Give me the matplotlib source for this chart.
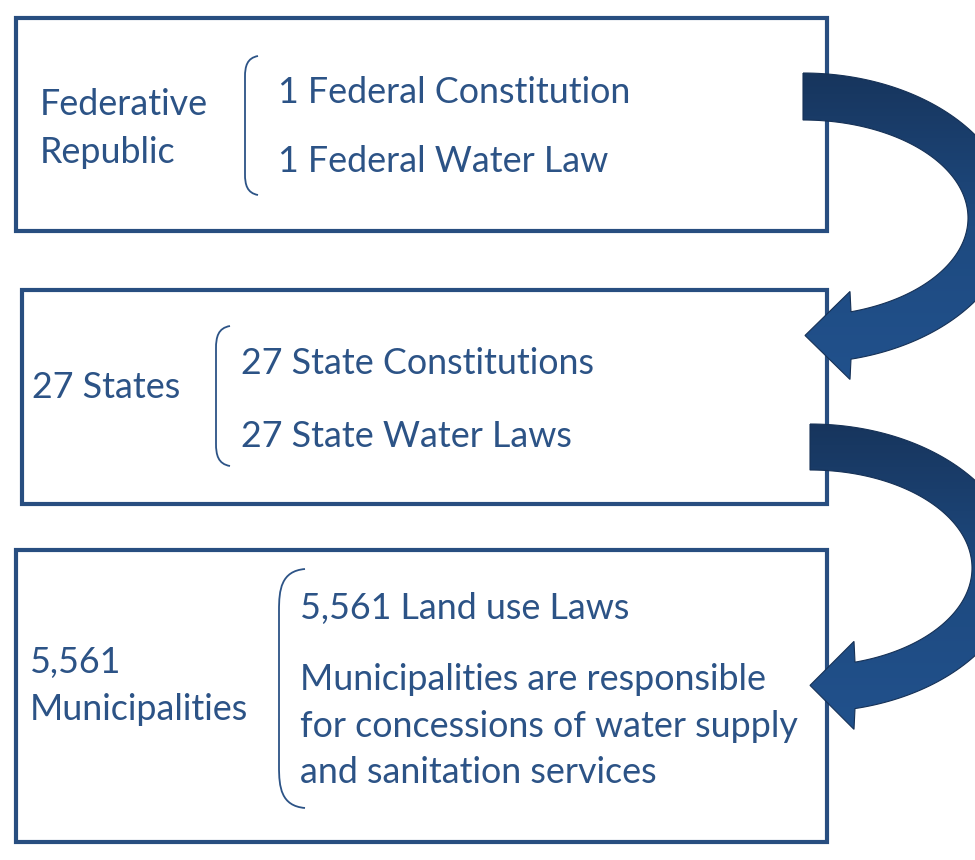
import numpy as np
import matplotlib
matplotlib.use("Agg")
import matplotlib.pyplot as plt
from matplotlib.patches import Rectangle, Polygon, PathPatch
from matplotlib.path import Path
from matplotlib.colors import LinearSegmentedColormap

# ---- content -------------------------------------------------------------
levels = [["Federative", "Republic"], ["27 States"], ["5,561", "Municipalities"]]
items = [
    [["1 Federal Constitution"], ["1 Federal Water Law"]],
    [["27 State Constitutions"], ["27 State Water Laws"]],
    [["5,561 Land use Laws"],
     ["Municipalities are responsible",
      "for concessions of water supply",
      "and sanitation services"]],
]

# ---- layout (pixel coordinates, y down) -----------------------------------
boxes = [(16, 18, 827, 231), (22, 290, 827, 504), (16, 550, 827, 842)]
level_x = [40, 32, 30]
level_base = [[115, 163], [398], [673, 720]]
item_x = [278, 241, 300]
item_base = [[[103], [172]], [[374], [447]], [[619], [690, 737, 783]]]
brackets = [(245, 56, 195, 13), (216, 326, 466, 14), (279, 569, 808, 26)]

# arrows: tail x, center y, outer/inner radii, head base x, head tip x, head half-width
arrows = [
    dict(cx=803, cy=218, rxo=210, ryo=145, rxi=165, ryi=98, hx=851, tip=805, hw=44),
    dict(cx=810, cy=568, rxo=208, ryo=144, rxi=162, ryi=98, hx=855, tip=810, hw=44),
]

TXT = "#2c5386"
EDGE = "#284e80"
FONT = "Lato"
FS = 25.8

fig = plt.figure(figsize=(9.75, 8.6), dpi=100)
ax = fig.add_axes([0, 0, 1, 1])
ax.set_xlim(0, 975)
ax.set_ylim(860, 0)
ax.axis("off")

for (x0, y0, x1, y1) in boxes:
    ax.add_patch(Rectangle((x0, y0), x1 - x0, y1 - y0, fill=False,
                           edgecolor=EDGE, linewidth=3.0, zorder=2))

for (bx, top, bot, w) in brackets:
    r = w * 1.6
    verts = [(bx + w, top), (bx + 2, top + 2), (bx, top + r * 0.5), (bx, top + r),
             (bx, bot - r),
             (bx, bot - r * 0.5), (bx + 2, bot - 2), (bx + w, bot)]
    codes = [Path.MOVETO, Path.CURVE4, Path.CURVE4, Path.CURVE4,
             Path.LINETO, Path.CURVE4, Path.CURVE4, Path.CURVE4]
    ax.add_patch(PathPatch(Path(verts, codes), fill=False, edgecolor=TXT,
                           linewidth=1.3, zorder=3))

for lines, x, bases in zip(levels, level_x, level_base):
    for s, y in zip(lines, bases):
        ax.text(x, y, s, color=TXT, fontsize=FS, family=FONT, va="baseline", ha="left")

for groups, x, gbases in zip(items, item_x, item_base):
    for lines, bases in zip(groups, gbases):
        for s, y in zip(lines, bases):
            ax.text(x, y, s, color=TXT, fontsize=FS, family=FONT, va="baseline", ha="left")

cmap = LinearSegmentedColormap.from_list("arr", ["#17355d", "#1e4a80", "#21518c"])
for a in arrows:
    cx, cy = a["cx"], a["cy"]
    to = -np.arccos((a["hx"] - cx) / a["rxo"])
    ti = -np.arccos((a["hx"] - cx) / a["rxi"])
    t_out = np.linspace(np.pi / 2, to, 120)
    t_in = np.linspace(ti, np.pi / 2, 120)
    outer = np.column_stack([cx + a["rxo"] * np.cos(t_out), cy - a["ryo"] * np.sin(t_out)])
    inner = np.column_stack([cx + a["rxi"] * np.cos(t_in), cy - a["ryi"] * np.sin(t_in)])
    ymid = (outer[-1, 1] + inner[0, 1]) / 2
    head = np.array([[a["hx"] - 1, ymid + a["hw"]], [a["tip"], ymid],
                     [a["hx"] - 1, ymid - a["hw"]]])
    pts = np.vstack([outer, head, inner])
    poly = Polygon(pts, closed=True, facecolor="none", edgecolor="#163156",
                   linewidth=0.8, zorder=6)
    ax.add_patch(poly)
    y0, y1 = pts[:, 1].min(), pts[:, 1].max()
    grad = np.linspace(0, 1, 256).reshape(-1, 1)
    im = ax.imshow(grad, extent=(cx - 5, 990, y1, y0), origin="upper",
                   cmap=cmap, aspect="auto", zorder=5, interpolation="bilinear")
    im.set_clip_path(poly)

ax.set_xlim(0, 975)
ax.set_ylim(860, 0)
fig.savefig("out.png", dpi=100, facecolor="white")
